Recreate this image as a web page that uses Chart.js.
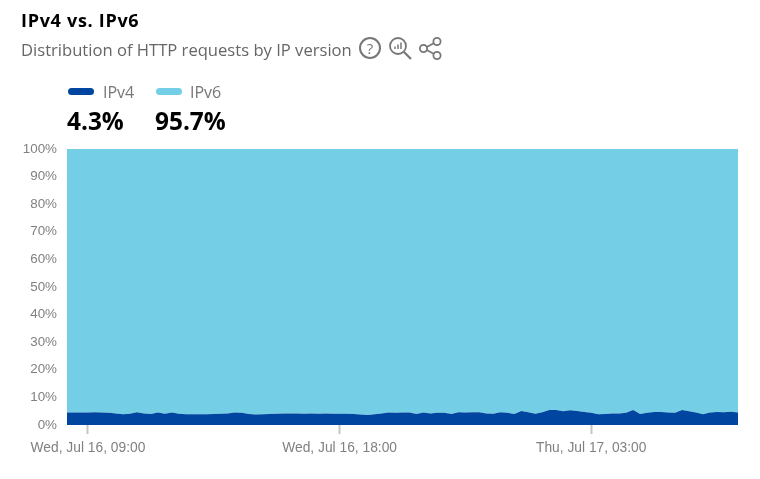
<!DOCTYPE html>
<html>
<head>
<meta charset="utf-8">
<script src="https://cdn.jsdelivr.net/npm/chart.js@4"></script>
<style>
html,body{margin:0;padding:0;background:#fff;width:760px;height:479px;overflow:hidden}
#wrap{position:relative;width:760px;height:479px}
#c{position:absolute;left:0;top:0}
.t{position:absolute;white-space:nowrap;font-family:"Open Sans",sans-serif}
#title{left:21px;top:9px;font-size:18px;font-weight:700;color:#000;line-height:22px;letter-spacing:.7px}
#sub{left:21px;top:38px;font-size:16.6px;color:#666;line-height:24px}
.lg{font-family:"Open Sans",sans-serif;font-size:16px;color:#777;line-height:20px}
.val{font-size:24.4px;font-weight:700;color:#000;line-height:30px}
.sw{position:absolute;height:7px;width:26px;border-radius:4px}
svg{position:absolute;overflow:visible}
</style>
</head>
<body>
<div id="wrap">
<canvas id="c" width="760" height="479"></canvas>
<div class="t" id="title">IPv4 vs. IPv6</div>
<div class="t" id="sub">Distribution of HTTP requests by IP version</div>
<svg style="left:359px;top:37px" width="23" height="23" fill="none" stroke="#777" stroke-width="2">
  <circle cx="11" cy="11" r="10"/>
  <text x="11" y="16.5" text-anchor="middle" font-family="Open Sans" font-size="15" fill="#777" stroke="none">?</text>
</svg>
<svg style="left:389px;top:37px" width="24" height="24" fill="none" stroke="#777" stroke-width="1.8">
  <circle cx="9" cy="9" r="8"/>
  <line x1="15" y1="15" x2="22" y2="22" stroke-width="2.2"/>
  <line x1="6" y1="12" x2="6" y2="9.5" stroke-width="1.5"/>
  <line x1="9" y1="12" x2="9" y2="7.5" stroke-width="1.5"/>
  <line x1="12" y1="12" x2="12" y2="5.5" stroke-width="1.5"/>
</svg>
<svg style="left:419px;top:37px" width="24" height="24" fill="none" stroke="#777" stroke-width="1.8">
  <line x1="5" y1="11.5" x2="17" y2="5"/>
  <line x1="5" y1="11.5" x2="17" y2="18"/>
  <circle cx="4.5" cy="11.5" r="3.6" fill="#fff"/>
  <circle cx="18" cy="4.5" r="3.6" fill="#fff"/>
  <circle cx="18" cy="18.5" r="3.6" fill="#fff"/>
</svg>
<div class="sw" id="sw0" style="left:68px;top:88px"></div>
<div class="t lg" id="lg0" style="left:103px;top:82px"></div>
<div class="t val" id="val0" style="left:67px;top:106px"></div>
<div class="sw" id="sw1" style="left:156px;top:88px"></div>
<div class="t lg" id="lg1" style="left:190px;top:82px"></div>
<div class="t val" id="val1" style="left:155px;top:106px"></div>
</div>
<script>
const seriesNames = ["IPv4", "IPv6"];
const summaryValues = ["4.3%", "95.7%"];
const seriesColors = ["#00459F", "#73CEE6"];
const ipv4 = [
4.5,4.5,4.5,4.5,4.6,4.5,4.4,4.2,
3.9,4.1,4.6,4.2,4.0,4.5,4.1,4.5,4.1,3.9,3.9,
3.9,3.9,4.0,4.1,4.2,4.5,4.4,4.0,3.8,3.9,4.0,4.1,4.2,4.2,4.2,4.1,4.2,4.1,4.2,4.1,
4.1,4.1,4.0,3.8,3.6,3.9,4.2,4.5,4.4,4.5,4.5,4.0,4.5,4.2,4.4,4.4,4.0,4.6,4.5,4.6,
4.6,4.2,4.1,4.6,4.4,4.0,5.1,4.6,4.1,4.6,5.4,5.4,5.0,5.3,5.1,4.7,4.4,3.9,4.0,4.2,4.2,
4.4,5.4,4.0,4.4,4.7,4.7,4.5,4.4,5.4,5.0,4.5,3.9,4.5,4.7,4.6,4.8,4.5];
const ipv6 = [
95.5,95.5,95.5,95.5,95.4,95.5,95.6,95.8,
96.1,95.9,95.4,95.8,96.0,95.5,95.9,95.5,95.9,96.1,96.1,
96.1,96.1,96.0,95.9,95.8,95.5,95.6,96.0,96.2,96.1,96.0,95.9,95.8,95.8,95.8,95.9,95.8,95.9,95.8,95.9,
95.9,95.9,96.0,96.2,96.4,96.1,95.8,95.5,95.6,95.5,95.5,96.0,95.5,95.8,95.6,95.6,96.0,95.4,95.5,95.4,
95.4,95.8,95.9,95.4,95.6,96.0,94.9,95.4,95.9,95.4,94.6,94.6,95.0,94.7,94.9,95.3,95.6,96.1,96.0,95.8,95.8,
95.6,94.6,96.0,95.6,95.3,95.3,95.5,95.6,94.6,95.0,95.5,96.1,95.5,95.3,95.4,95.2,95.5];
const tickIndices = [3, 39, 75];
const tickLabels = ["Wed, Jul 16, 09:00", "Wed, Jul 16, 18:00", "Thu, Jul 17, 03:00"];

const categories = ipv4.map((_, i) => {
  const k = tickIndices.indexOf(i);
  return k >= 0 ? tickLabels[k] : String(i);
});

seriesNames.forEach((n, i) => {
  document.getElementById("lg" + i).textContent = n;
  document.getElementById("val" + i).textContent = summaryValues[i];
  document.getElementById("sw" + i).style.background = seriesColors[i];
});

Chart.defaults.animation = false;
new Chart(document.getElementById("c"), {
  type: "line",
  data: {
    labels: categories,
    datasets: [
      {label: seriesNames[0], data: ipv4, backgroundColor: seriesColors[0], fill: "origin", borderWidth: 0, pointRadius: 0, tension: 0},
      {label: seriesNames[1], data: ipv6, backgroundColor: seriesColors[1], fill: "-1", borderWidth: 0, pointRadius: 0, tension: 0}
    ]
  },
  options: {
    responsive: false,
    animation: false,
    layout: {padding: {top: 149, right: 22, left: 0, bottom: 0}},
    plugins: {legend: {display: false}, title: {display: false}, tooltip: {enabled: false}},
    scales: {
      x: {
        type: "category",
        offset: false,
        border: {display: false},
        grid: {display: true, drawOnChartArea: false, drawTicks: true, tickLength: 9, tickColor: "#c4c4c4", tickWidth: 2},
        afterBuildTicks: s => { s.ticks = tickIndices.map(v => ({value: v})); },
        afterFit: s => { s.height = 54; },
        ticks: {
          autoSkip: false, maxRotation: 0, minRotation: 0, padding: 6,
          color: "#808080", font: {family: "Liberation Sans", size: 13.8},
          callback: function (v) { return this.getLabelForValue(v); }
        }
      },
      y: {
        stacked: true, min: 0, max: 100,
        border: {display: false},
        grid: {display: false},
        afterFit: s => { s.width = 67; },
        ticks: {
          stepSize: 10, padding: 2,
          color: "#808080", font: {family: "Liberation Sans", size: 13.4},
          callback: v => v + "%"
        }
      }
    }
  }
});
</script>
</body>
</html>
